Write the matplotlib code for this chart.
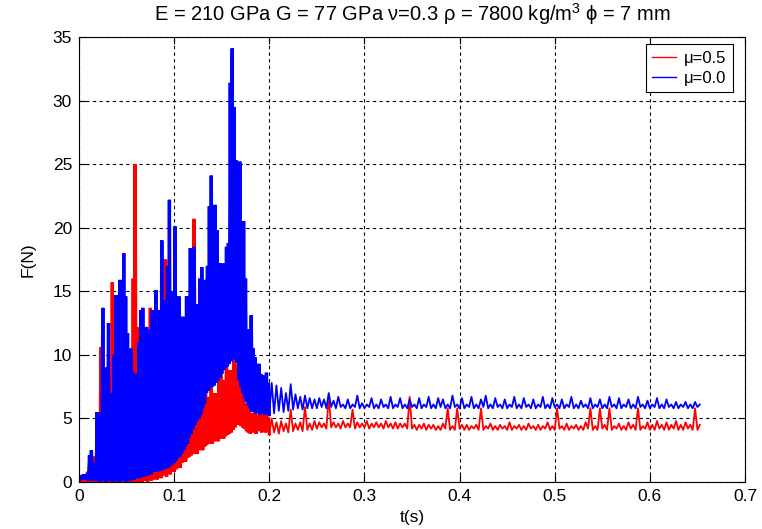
import matplotlib.pyplot as plt
import numpy as np

plt.rcParams['font.family'] = ['Liberation Sans', 'DejaVu Sans']
plt.rcParams['mathtext.fontset'] = 'custom'
plt.rcParams['mathtext.rm'] = 'Liberation Sans'
plt.rcParams['mathtext.it'] = 'Liberation Sans:italic'

# contact force F(t); impact phase sampled every 2 ms (low / high swing),
# settled phase every 5 ms
dense_t0, dense_dt = 0.0, 0.002
tail_t0, tail_dt = 0.2, 0.005

# mu = 0.0  (blue)
blue_lo = [0.2, 0.3, 0.2, 0.3, 0.2, 0.1, 0.2, 0.1, 0.2, 0.1,
           0.1, 0.0, 0.2, 0.1, 0.0, 0.2, 0.1, 0.3, 0.0, 0.2,
           0.1, 0.0, 0.2, 0.1, 0.3, 0.0, 0.2, 0.1, 0.3, 0.2,
           0.3, 0.4, 0.3, 0.5, 0.4, 0.6, 0.5, 0.7, 0.6, 0.8,
           0.9, 0.8, 1.0, 0.9, 1.1, 1.0, 1.2, 1.1, 1.3, 1.4,
           1.5, 1.7, 1.9, 2.0, 2.3, 2.5, 2.8, 3.0, 3.5, 3.8,
           4.2, 4.5, 4.8, 5.0, 5.3, 5.8, 6.2, 7.0, 7.2, 7.4,
           7.5, 7.6, 7.8, 8.0, 8.2, 8.5, 8.8, 9.0, 9.1, 9.3,
           9.5, 9.6, 9.6, 9.4, 8.0, 7.5, 7.0, 6.6, 6.3, 6.0,
           5.8, 5.5, 5.6, 5.4, 5.5, 5.3, 5.5, 5.4, 5.3, 5.4]
blue_hi = [0.5, 0.4, 0.6, 0.5, 0.7, 2.1, 2.5, 1.5, 1.3, 5.5,
           4.9, 5.5, 13.7, 7.5, 9.0, 12.5, 7.0, 6.5, 10.0, 14.7,
           11.7, 15.9, 12.0, 18.0, 14.6, 11.7, 9.8, 10.5, 8.6, 8.3,
           8.5, 11.0, 13.5, 13.7, 12.1, 12.2, 10.0, 12.0, 13.5, 11.0,
           15.1, 12.0, 13.5, 19.0, 14.3, 14.0, 17.0, 22.2, 15.0, 11.2,
           20.1, 14.6, 14.6, 12.6, 13.0, 11.2, 14.6, 13.0, 18.4, 15.0,
           18.5, 14.0, 12.2, 16.0, 16.9, 13.3, 15.9, 17.0, 21.7, 24.1,
           13.1, 21.8, 19.8, 15.7, 17.2, 16.5, 17.2, 18.5, 18.8, 31.4,
           34.1, 29.5, 25.3, 20.6, 25.2, 18.5, 20.5, 16.0, 11.8, 12.0,
           13.1, 10.5, 9.8, 9.0, 9.3, 8.5, 8.4, 7.8, 8.6, 7.8]
blue_tail_lo = [5.3, 5.4, 5.6, 5.5, 5.6, 5.7, 5.8, 5.7, 5.8, 5.8,
                5.8, 5.9, 5.8, 5.9, 5.8, 5.9, 5.8, 5.8, 5.9, 5.8,
                5.8, 5.9, 5.8, 5.8, 5.9, 5.8, 5.8, 5.9, 5.8, 5.8,
                5.9, 5.8, 5.8, 5.9, 5.8, 5.8, 5.9, 5.8, 5.8, 5.9,
                5.8, 5.8, 5.9, 5.8, 5.8, 5.9, 5.8, 5.8, 5.9, 5.8,
                5.8, 5.9, 5.8, 5.8, 5.9, 5.8, 5.8, 5.9, 5.8, 5.8,
                5.9, 5.8, 5.8, 5.9, 5.8, 5.8, 5.9, 5.8, 5.8, 5.9,
                5.8, 5.8, 5.9, 5.8, 5.8, 5.9, 5.8, 5.8, 5.9, 5.8,
                5.8, 5.9, 5.8, 5.8, 5.9, 5.8, 5.8, 5.9, 5.8, 5.8,
                5.9]
blue_tail_hi = [7.8, 7.6, 7.4, 7.0, 7.7, 6.9, 6.7, 6.8, 6.6, 6.5,
                6.6, 6.5, 7.0, 6.4, 6.7, 6.1, 6.5, 6.1, 6.8, 6.2,
                6.1, 6.6, 6.1, 6.5, 6.1, 6.7, 6.1, 6.6, 6.1, 6.5,
                6.1, 6.6, 6.1, 6.7, 6.1, 6.6, 6.5, 6.1, 6.8, 6.1,
                6.6, 6.1, 6.7, 6.1, 6.5, 6.8, 6.1, 6.6, 6.1, 6.5,
                6.1, 6.7, 6.1, 6.6, 6.1, 6.5, 6.1, 6.7, 6.1, 6.6,
                6.1, 6.5, 6.1, 6.7, 6.1, 6.4, 6.1, 6.6, 6.1, 6.5,
                6.1, 6.7, 6.1, 6.6, 6.1, 6.5, 6.1, 6.7, 6.1, 6.4,
                6.1, 6.6, 6.1, 6.5, 6.1, 6.3, 6.1, 6.3, 6.1, 6.3,
                6.1]

# mu = 0.5  (red)
red_lo = [0.0, 0.0, 0.0, 0.0, 0.0, 0.0, 0.0, 0.0, 0.0, 0.0,
          0.0, 0.0, 0.1, 0.0, 0.0, 0.1, 0.0, 0.0, 0.1, 0.0,
          0.0, 0.1, 0.0, 0.0, 0.1, 0.0, 0.0, 0.1, 0.0, 0.0,
          0.1, 0.0, 0.1, 0.0, 0.2, 0.1, 0.0, 0.2, 0.1, 0.2,
          0.3, 0.2, 0.4, 0.3, 0.5, 0.6, 0.4, 0.7, 0.6, 0.8,
          0.8, 1.0, 1.2, 1.1, 1.5, 1.7, 1.6, 1.9, 2.0, 2.1,
          2.2, 2.3, 2.2, 2.5, 2.6, 2.5, 2.8, 2.9, 3.0, 3.1,
          3.0, 3.2, 3.3, 3.2, 3.4, 3.5, 3.4, 3.6, 3.7, 3.8,
          3.9, 4.1, 4.3, 4.5, 4.6, 4.4, 4.3, 4.2, 4.0, 3.9,
          3.8, 3.9, 4.0, 3.8, 4.1, 4.0, 3.9, 4.1, 3.9, 4.0]
red_hi = [0.2, 0.3, 0.5, 0.4, 0.8, 1.2, 1.5, 2.0, 1.8, 2.5,
          3.0, 10.6, 3.5, 4.0, 5.5, 3.8, 6.0, 15.7, 4.5, 6.5,
          13.8, 5.0, 7.0, 5.5, 8.0, 6.0, 7.5, 5.0, 16.0, 25.0,
          12.2, 6.0, 8.4, 5.5, 7.0, 5.0, 6.5, 13.7, 5.5, 7.0,
          6.0, 5.5, 10.1, 6.0, 5.0, 17.5, 5.5, 6.0, 4.5, 3.5,
          3.1, 4.0, 3.5, 4.2, 3.3, 4.5, 3.8, 4.8, 4.3, 5.0,
          20.7, 5.4, 4.8, 6.0, 5.2, 6.5, 7.2, 5.8, 6.7, 7.8,
          6.5, 7.0, 6.2, 8.0, 8.6, 7.0, 8.0, 9.6, 7.5, 8.8,
          7.0, 9.6, 8.0, 9.3, 6.5, 7.8, 6.8, 6.2, 5.8, 6.0,
          5.4, 5.2, 5.5, 5.0, 5.3, 5.1, 5.4, 5.0, 5.3, 5.1]
red_tail_lo = [3.8, 3.9, 3.8, 4.0, 3.9, 4.0, 4.1, 4.0, 4.1, 4.1,
               4.2, 4.3, 4.2, 4.3, 4.3, 4.2, 4.3, 4.3, 4.2, 4.3,
               4.3, 4.2, 4.3, 4.3, 4.2, 4.3, 4.2, 4.2, 4.3, 4.2,
               4.2, 4.1, 4.2, 4.1, 4.2, 4.1, 4.1, 4.2, 4.1, 4.1,
               4.2, 4.1, 4.1, 4.2, 4.1, 4.1, 4.2, 4.1, 4.1, 4.2,
               4.1, 4.1, 4.2, 4.1, 4.1, 4.2, 4.1, 4.1, 4.2, 4.1,
               4.1, 4.2, 4.1, 4.1, 4.2, 4.1, 4.1, 4.2, 4.1, 4.1,
               4.2, 4.1, 4.1, 4.2, 4.1, 4.1, 4.2, 4.1, 4.1, 4.2,
               4.1, 4.1, 4.2, 4.1, 4.1, 4.2, 4.1, 4.1, 4.2, 4.1,
               4.1]
red_tail_hi = [5.0, 4.7, 4.8, 4.6, 5.7, 4.6, 4.7, 5.9, 4.6, 4.8,
               4.7, 4.6, 6.7, 4.7, 4.6, 4.8, 4.6, 5.7, 4.7, 4.6,
               4.8, 4.6, 4.7, 4.6, 4.8, 4.6, 4.7, 4.6, 4.6, 6.7,
               4.5, 4.5, 4.6, 4.5, 4.5, 4.4, 4.6, 5.8, 4.4, 5.8,
               4.5, 4.5, 4.4, 4.5, 5.8, 4.4, 4.6, 4.4, 4.5, 4.4,
               4.7, 4.4, 4.5, 4.4, 4.6, 4.4, 4.5, 4.4, 4.7, 4.4,
               5.8, 4.4, 4.6, 4.4, 4.5, 4.4, 4.7, 5.8, 4.4, 5.8,
               4.5, 5.8, 4.4, 4.6, 4.4, 4.7, 4.5, 5.8, 4.4, 4.7,
               4.5, 4.8, 4.5, 4.7, 4.5, 4.8, 4.5, 4.7, 4.5, 5.8,
               4.5]

xticks = [0, 0.1, 0.2, 0.3, 0.4, 0.5, 0.6, 0.7]
xticklabels = ['0', '0.1', '0.2', '0.3', '0.4', '0.5', '0.6', '0.7']
yticks = [0, 5, 10, 15, 20, 25, 30, 35]


def trace(t0, dt, lo, hi):
    # each sample swings low -> high within one step
    n = len(lo)
    t = np.empty(2 * n)
    f = np.empty(2 * n)
    t[0::2] = t0 + dt * np.arange(n)
    t[1::2] = t[0::2] + dt / 2
    f[0::2] = lo
    f[1::2] = hi
    return t, f


fig = plt.figure(figsize=(7.62, 5.29), dpi=100)
ax = fig.add_axes([0.1037, 0.0888, 0.874, 0.8412])

# red first, blue on top; impact phase drawn thicker so the swings fill in
for lo, hi, tlo, thi, col, lab in [
        (red_lo, red_hi, red_tail_lo, red_tail_hi, '#ff0000', 'μ=0.5'),
        (blue_lo, blue_hi, blue_tail_lo, blue_tail_hi, '#0000ff', 'μ=0.0')]:
    td, fd = trace(dense_t0, dense_dt, lo, hi)
    tt, ft = trace(tail_t0, tail_dt, tlo, thi)
    ax.plot(np.append(td, tt[0]), np.append(fd, ft[0]), color=col, lw=2.4,
            solid_joinstyle='miter')
    ax.plot(tt, ft, color=col, lw=1.3)
    ax.plot([], [], color=col, lw=1.0, label=lab)

ax.set_xlim(0, 0.7)
ax.set_ylim(0, 35)
ax.set_xticks(xticks)
ax.set_xticklabels(xticklabels)
ax.set_yticks(yticks)
ax.set_yticklabels([str(v) for v in yticks])
ax.tick_params(direction='in', top=True, right=True, length=5, width=0.8,
               labelsize=12.5, colors='k', pad=5)
for s in ax.spines.values():
    s.set_linewidth(0.8)
ax.grid(True, color='k', linestyle=(0, (3, 3)), linewidth=0.8)

ax.set_xlabel('t(s)', fontsize=12.5, labelpad=4)
ax.set_ylabel('F(N)', fontsize=12.5, labelpad=12)
ax.set_title('E = 210 GPa G = 77 GPa ν=0.3 ρ = 7800 kg/m$^3$ ϕ = 7 mm',
             fontsize=14.5, pad=12)

leg = ax.legend(loc='upper right', bbox_to_anchor=(733 / 762, 1 - 44 / 529),
                bbox_transform=fig.transFigure, borderaxespad=0,
                fancybox=False, framealpha=1, edgecolor='k', fontsize=12,
                handlelength=1.4, handletextpad=0.5, borderpad=0.4,
                labelspacing=0.3)
leg.get_frame().set_linewidth(0.8)

fig.savefig('out.png', dpi=100)
